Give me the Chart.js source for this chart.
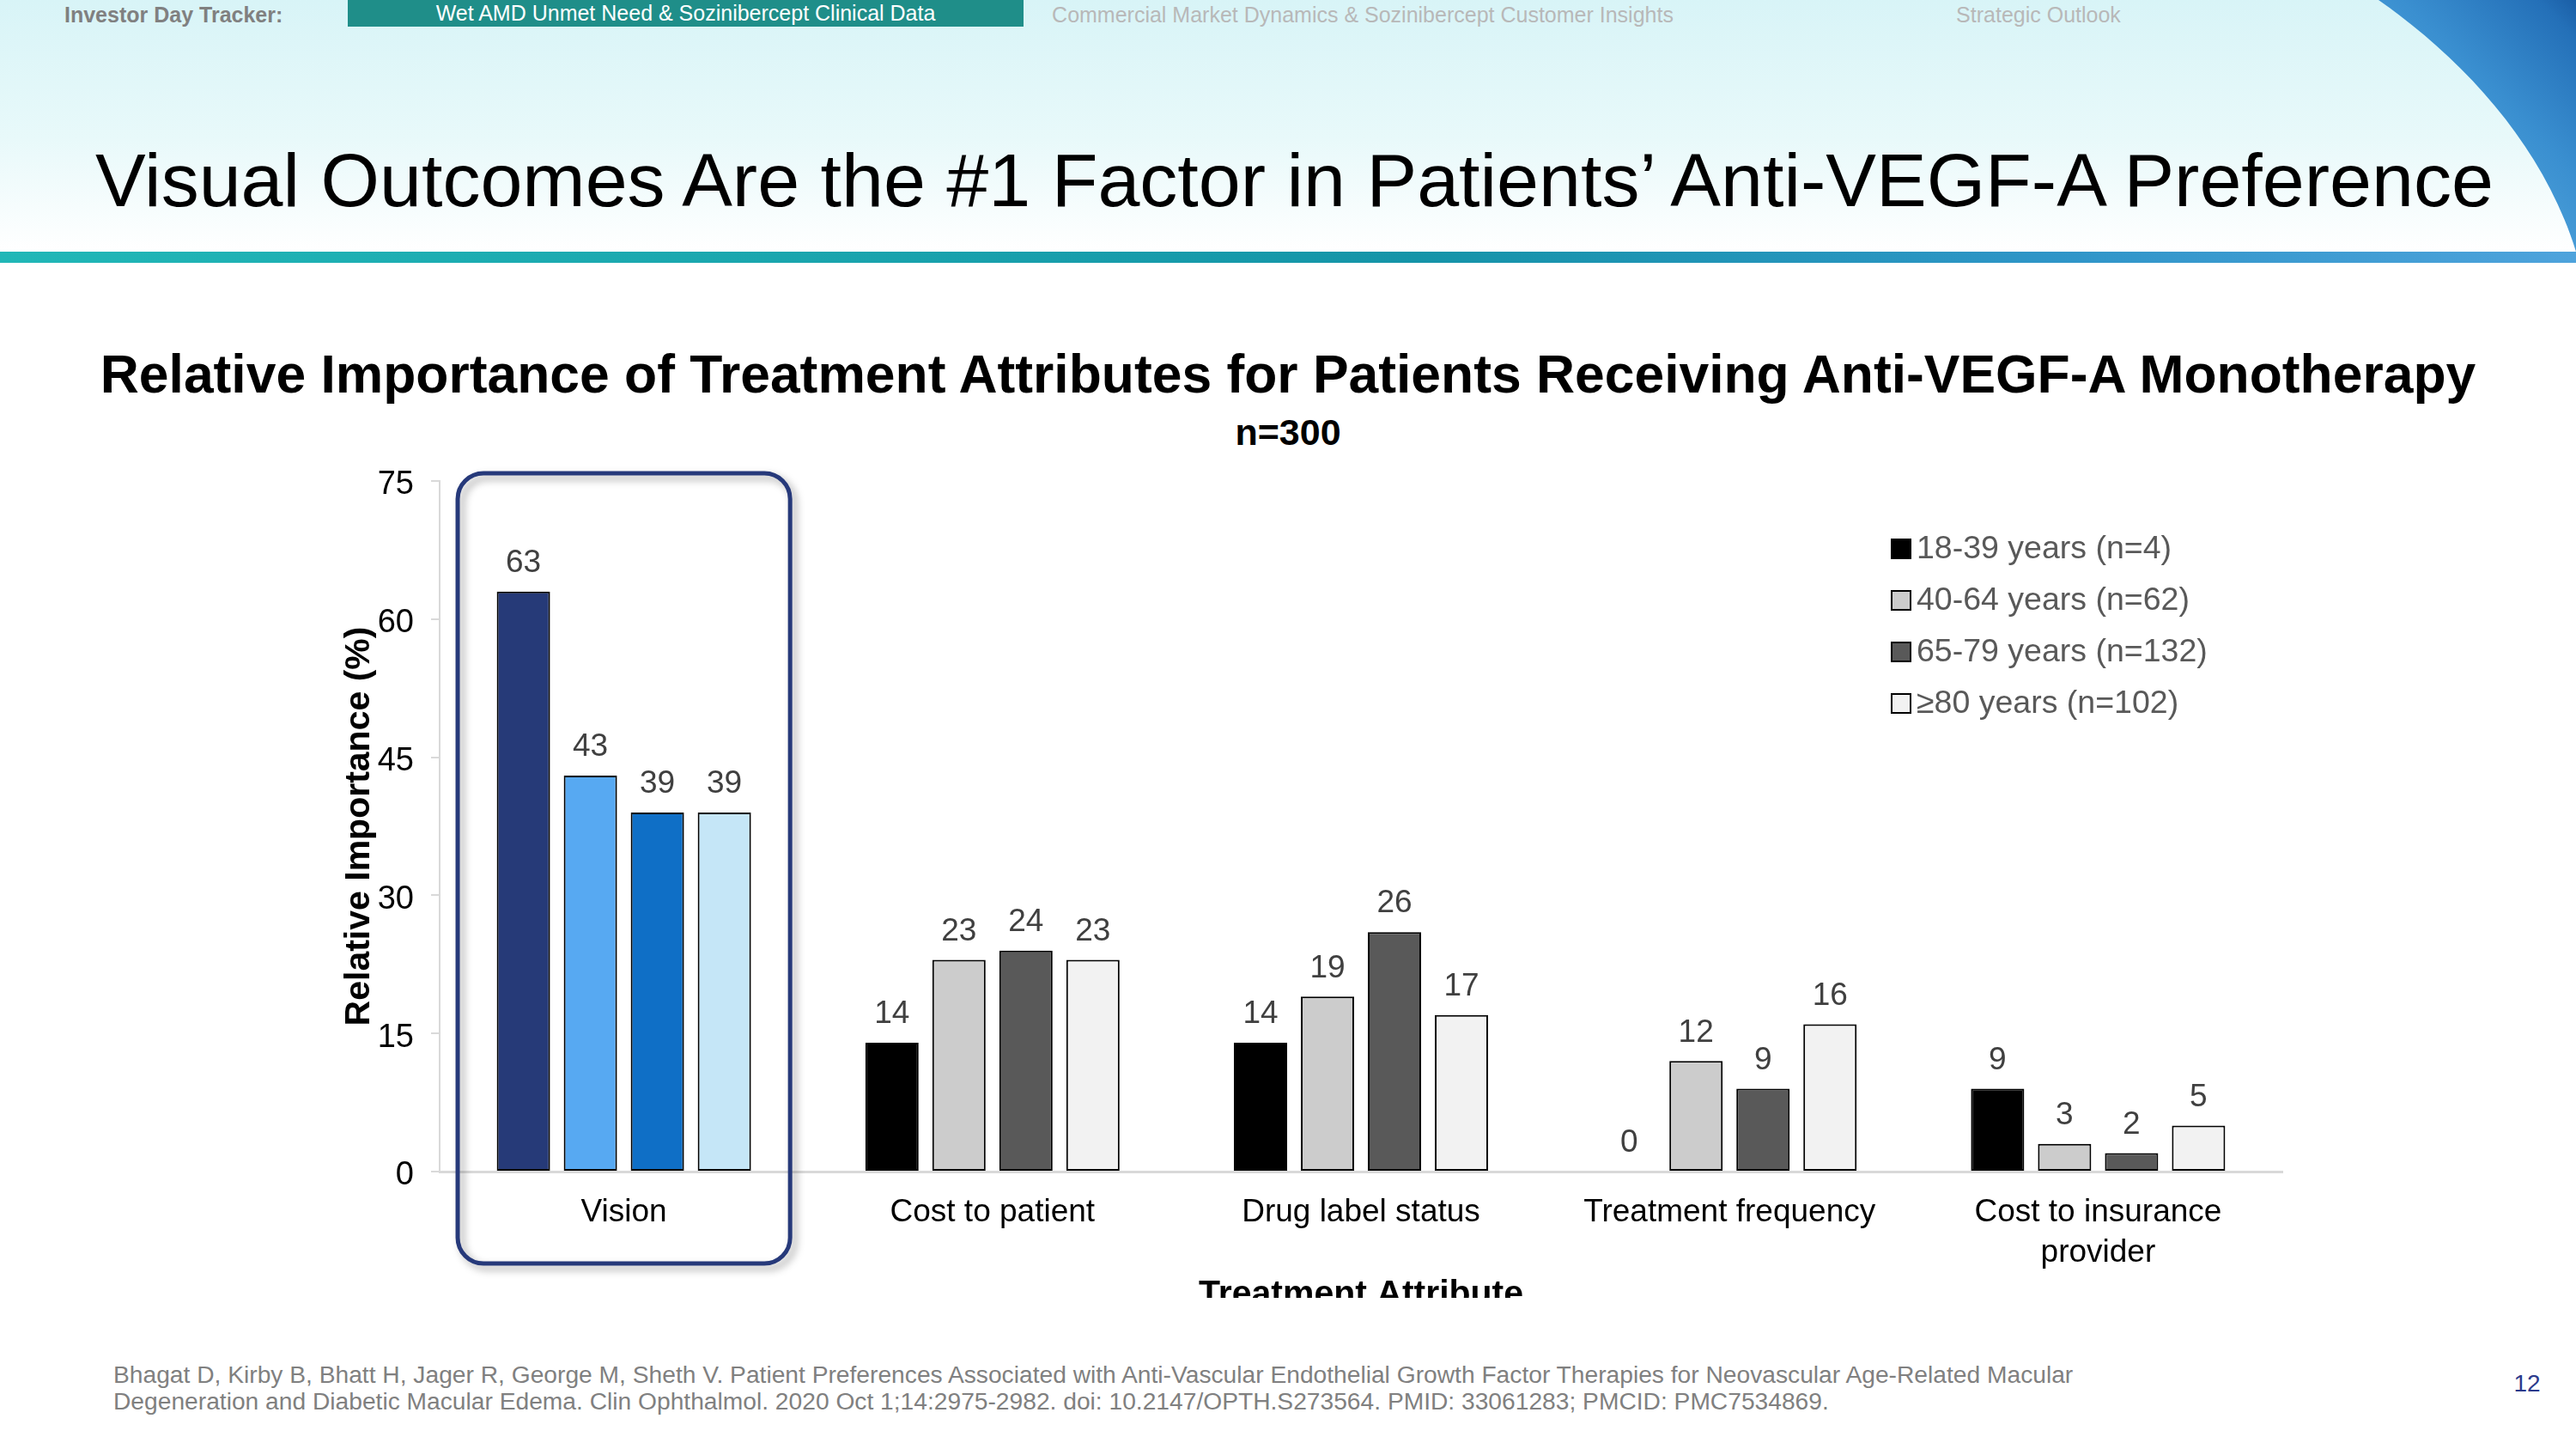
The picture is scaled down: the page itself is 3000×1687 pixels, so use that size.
<!DOCTYPE html>
<html>
<head>
<meta charset="utf-8">
<script src="https://cdn.jsdelivr.net/npm/chart.js@4.4.1/dist/chart.umd.min.js"></script>
<style>
  html, body { margin: 0; padding: 0; }
  body { width: 3000px; height: 1687px; position: relative; overflow: hidden; background: #ffffff;
         font-family: "Liberation Sans", Arial, sans-serif; }
  .abs { position: absolute; white-space: nowrap; }
  #hdr { left: 0; top: 0; width: 3000px; height: 293px;
         background: linear-gradient(180deg, #d8f4f7 0%, #e8f9fa 55%, #ffffff 100%); }
  #band { left: 0; top: 293px; width: 3000px; height: 13px;
          background: linear-gradient(90deg, #21b7b7 0%, #1aa6ae 30%, #1594a8 55%, #2f95c8 80%, #4ea3dc 100%); }
  #swoosh { left: 2700px; top: 0; width: 300px; height: 300px; }
  #tracker { left: 75px; top: 2px; font-size: 25px; line-height: 30px; font-weight: bold; color: #808080; }
  #tab { left: 405px; top: 0; width: 787px; height: 31px; background: #1f8e89; color: #ffffff;
         font-size: 25px; line-height: 31px; text-align: center; }
  #tab2 { left: 1187px; width: 800px; top: 2px; font-size: 25px; line-height: 30px; color: #b8b8b8; text-align: center; }
  #tab3 { left: 2174px; width: 400px; top: 2px; font-size: 25px; line-height: 30px; color: #b8b8b8; text-align: center; }
  #title { left: 111px; top: 160px; font-size: 88px; line-height: 100px; color: #000000; }
  #ctitle { left: 0; width: 3000px; top: 401px; font-size: 62.4px; line-height: 70px; font-weight: bold; text-align: center; color: #000; }
  #nsub { left: 0; width: 3000px; top: 478px; font-size: 43px; line-height: 50px; font-weight: bold; text-align: center; color: #000; }
  #chartWrap { left: 0; top: 320px; width: 3000px; height: 1191px; overflow: hidden; }
  #foot { left: 132px; top: 1585px; font-size: 28.2px; line-height: 31px; color: #808080; }
  #page { left: 2920px; top: 1594px; width: 46px; text-align: center; font-size: 28px; line-height: 34px; color: #2b3a8c; }
</style>
</head>
<body>
<div id="hdr" class="abs"></div>
<svg id="swoosh" class="abs" viewBox="0 0 300 300" xmlns="http://www.w3.org/2000/svg">
  <defs>
    <linearGradient id="sg" x1="0.25" y1="0.95" x2="1" y2="0">
      <stop offset="0" stop-color="#5db1e2"/>
      <stop offset="0.55" stop-color="#3a8fd0"/>
      <stop offset="0.9" stop-color="#2470b8"/>
      <stop offset="1" stop-color="#1a5ea6"/>
    </linearGradient>
  </defs>
  <path d="M70,0 C170,70 262,170 300,293 L300,0 Z" fill="url(#sg)"/>
</svg>
<div id="band" class="abs"></div>
<div id="tracker" class="abs">Investor Day Tracker:</div>
<div id="tab" class="abs">Wet AMD Unmet Need &amp; Sozinibercept Clinical Data</div>
<div id="tab2" class="abs">Commercial Market Dynamics &amp; Sozinibercept Customer Insights</div>
<div id="tab3" class="abs">Strategic Outlook</div>
<div id="title" class="abs">Visual Outcomes Are the #1 Factor in Patients’ Anti-VEGF-A Preference</div>
<div id="ctitle" class="abs">Relative Importance of Treatment Attributes for Patients Receiving Anti-VEGF-A Monotherapy</div>
<div id="nsub" class="abs">n=300</div>
<div id="chartWrap" class="abs"><canvas id="c" width="3000" height="1260"></canvas></div>
<div id="foot" class="abs">Bhagat D, Kirby B, Bhatt H, Jager R, George M, Sheth V. Patient Preferences Associated with Anti-Vascular Endothelial Growth Factor Therapies for Neovascular Age-Related Macular<br>Degeneration and Diabetic Macular Edema. Clin Ophthalmol. 2020 Oct 1;14:2975-2982. doi: 10.2147/OPTH.S273564. PMID: 33061283; PMCID: PMC7534869.</div>
<div id="page" class="abs">12</div>

<script>
// ---- data ----
const categories = ['Vision', 'Cost to patient', 'Drug label status', 'Treatment frequency', ['Cost to insurance', 'provider']];
const seriesLabels = ['18-39 years (n=4)', '40-64 years (n=62)', '65-79 years (n=132)', '≥80 years (n=102)'];
const age18to39 = [63, 14, 14, 0, 9];
const age40to64 = [43, 23, 19, 12, 3];
const age65to79 = [39, 24, 26, 9, 2];
const age80plus = [39, 23, 17, 16, 5];
const yTicks = [0, 15, 30, 45, 60, 75];

// ---- styles ----
const FONT = '"Liberation Sans", Arial, sans-serif';
const grayColors = ['#000000', '#cccccc', '#595959', '#f2f2f2'];
const visionColors = ['#263a78', '#57a9f2', '#0f6fc6', '#c5e6f7'];
const seriesValues = [age18to39, age40to64, age65to79, age80plus];

const datasets = seriesValues.map((vals, i) => ({
  label: seriesLabels[i],
  data: vals,
  backgroundColor: (ctx) => ctx.dataIndex === 0 ? visionColors[i] : grayColors[i],
  borderColor: '#000000',
  borderWidth: (ctx) => ctx.raw === 0 ? 0 : 2,
  borderSkipped: false,
  barPercentage: 0.795,
  categoryPercentage: 0.727
}));

const valueLabels = {
  id: 'valueLabels',
  afterDatasetsDraw(chart) {
    const ctx = chart.ctx;
    ctx.save();
    ctx.font = '37px ' + FONT;
    ctx.fillStyle = '#404040';
    ctx.textAlign = 'center';
    ctx.textBaseline = 'middle';
    chart.data.datasets.forEach((ds, i) => {
      chart.getDatasetMeta(i).data.forEach((el, j) => {
        ctx.fillText(String(ds.data[j]), el.x, el.y - 33);
      });
    });
    ctx.restore();
  }
};

const sideLegend = {
  id: 'sideLegend',
  afterDraw(chart) {
    const { ctx, chartArea } = chart;
    ctx.save();
    ctx.font = '37.5px ' + FONT;
    ctx.textBaseline = 'middle';
    ctx.textAlign = 'left';
    chart.data.datasets.forEach((ds, i) => {
      const x = 2202;
      const y = chartArea.top + 79 + i * 60;
      ctx.fillStyle = grayColors[i];
      ctx.fillRect(x, y - 12, 24, 24);
      ctx.lineWidth = 2;
      ctx.strokeStyle = '#000000';
      ctx.strokeRect(x + 1, y - 11, 22, 22);
      ctx.fillStyle = '#595959';
      ctx.fillText(ds.label, x + 30, y + 1);
    });
    ctx.restore();
  }
};

const highlight = {
  id: 'highlight',
  afterDraw(chart) {
    const { ctx, chartArea } = chart;
    const xs = chart.scales.x, ys = chart.scales.y;
    const cw = xs.width / chart.data.labels.length;
    const cx = xs.getPixelForValue(0);
    const l = cx - cw * 0.451, r = cx + cw * 0.451;
    const t = ys.getPixelForValue(75) - 9, b = chartArea.bottom + 107;
    const rad = 30;
    ctx.save();
    ctx.shadowColor = 'rgba(0,0,0,0.35)';
    ctx.shadowBlur = 10;
    ctx.shadowOffsetX = 5;
    ctx.shadowOffsetY = 5;
    ctx.strokeStyle = '#26397a';
    ctx.lineWidth = 5;
    ctx.beginPath();
    ctx.moveTo(l + rad, t);
    ctx.arcTo(r, t, r, b, rad);
    ctx.arcTo(r, b, l, b, rad);
    ctx.arcTo(l, b, l, t, rad);
    ctx.arcTo(l, t, r, t, rad);
    ctx.closePath();
    ctx.stroke();
    ctx.restore();
  }
};

new Chart(document.getElementById('c'), {
  type: 'bar',
  data: { labels: categories, datasets: datasets },
  plugins: [valueLabels, sideLegend, highlight],
  options: {
    responsive: false,
    animation: false,
    devicePixelRatio: 1,
    layout: { padding: { top: 240, right: 342, left: 0, bottom: 0 } },
    plugins: { legend: { display: false }, tooltip: { enabled: false }, title: { display: false } },
    scales: {
      x: {
        grid: { display: false },
        border: { display: true, color: '#d9d9d9', width: 3 },
        ticks: { font: { size: 37, family: FONT, lineHeight: 1.28 }, color: '#000000', padding: 16,
                 maxRotation: 0, minRotation: 0, autoSkip: false },
        title: { display: true, text: 'Treatment Attribute', color: '#000000',
                 font: { size: 41, weight: 'bold', family: FONT, lineHeight: 1.2 },
                 padding: { top: 0, bottom: 48 } },
        afterFit(s) { s.height = 216; }
      },
      y: {
        min: 0, max: 75,
        grid: { display: true, drawOnChartArea: false, drawTicks: true, tickLength: 10, color: '#d9d9d9', lineWidth: 2 },
        border: { display: true, color: '#d9d9d9', width: 2 },
        ticks: { font: { size: 38, family: FONT }, color: '#000000', padding: 20, labelOffset: 5 },
        afterBuildTicks(s) { s.ticks = yTicks.map(v => ({ value: v })); },
        title: { display: true, text: 'Relative Importance (%)', color: '#000000',
                 font: { size: 41, weight: 'bold', family: FONT, lineHeight: 1.2 },
                 padding: { top: 394, bottom: 0 } },
        afterFit(s) { s.width = 512; }
      }
    }
  }
});
</script>
</body>
</html>
